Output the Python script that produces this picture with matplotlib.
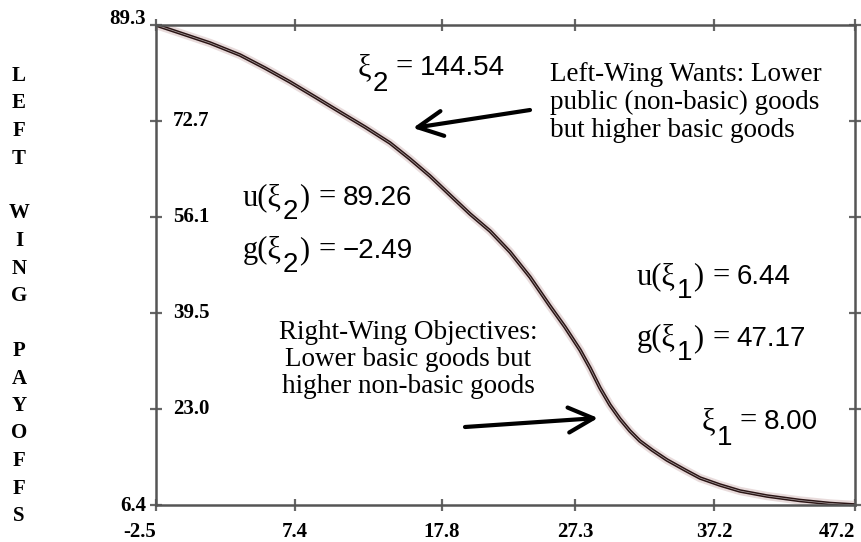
import matplotlib
matplotlib.use("Agg")
import matplotlib.pyplot as plt
import matplotlib.transforms as mtransforms

# ---- payoff curve samples ----
xi = [-2.50, -0.79, 1.34, 3.47, 5.25, 7.03, 8.81, 10.58, 12.36, 14.14, 15.56,
      16.98, 18.40, 19.83, 21.25, 22.67, 24.09, 25.51, 26.58, 27.65, 28.36,
      29.07, 29.78, 30.49, 31.20, 31.91, 32.77, 33.83, 35.11, 36.18, 37.60,
      39.02, 40.94, 43.29, 45.42, 47.20]
payoff = [89.30, 87.92, 86.19, 84.12, 81.87, 79.46, 76.87, 74.27, 71.68, 68.92,
          66.16, 63.22, 59.94, 56.66, 53.72, 50.10, 45.78, 40.77, 37.14, 33.17,
          30.06, 26.61, 23.67, 21.25, 19.18, 17.45, 15.90, 14.18, 12.45, 11.06,
          9.85, 8.82, 7.95, 7.18, 6.66, 6.40]

x_ticks = [-2.5, 7.4, 17.8, 27.3, 37.2, 47.2]
x_labels = ["-2.5", "7.4", "17.8", "27.3", "37.2", "47.2"]
y_ticks = [6.4, 23.0, 39.5, 56.1, 72.7, 89.3]
y_labels = ["6.4", "23.0", "39.5", "56.1", "72.7", "89.3"]

# equilibrium values
xi2, u_xi2, g_xi2 = 144.54, 89.26, -2.49
xi1, u_xi1, g_xi1 = 8.00, 6.44, 47.17

ylabel_text = "LEFT WING PAYOFFS"
left_note = "Left-Wing Wants: Lower\npublic (non-basic) goods\nbut higher basic goods"
right_note = "Right-Wing Objectives:\nLower basic goods but\nhigher non-basic goods"

SERIF = ["Liberation Serif", "DejaVu Serif"]
NARROW = ["Liberation Sans Narrow", "Liberation Sans", "DejaVu Sans"]

W, H = 862, 542
fig = plt.figure(figsize=(W / 100, H / 100), dpi=100)
ax = fig.add_axes([156 / W, (H - 505) / H, 699 / W, 480 / H])

ax.plot(xi, payoff, color="#d9c4c4", lw=6, alpha=0.6, solid_capstyle="round")
ax.plot(xi, payoff, color="#2b1515", lw=2.6)
ax.plot(xi, payoff, color="#b0a8a8", lw=0.5)

ax.set_xlim(-2.5, 47.2)
ax.set_ylim(6.4, 89.3)

for s in ax.spines.values():
    s.set_color("#555555")
    s.set_linewidth(1.8)

ax.set_xticks(x_ticks)
ax.set_xticklabels(x_labels, family=SERIF, fontweight="bold", fontsize=15)
ax.set_yticks(y_ticks)
ax.tick_params(direction="inout", length=9, width=1.6, color="#666666",
               top=True, right=True, labelleft=False, pad=8)
xl = ax.get_xticklabels()
xl[0].set_horizontalalignment("right")
xl[-1].set_horizontalalignment("right")

# y tick labels: ends outside the frame, middle ones inside
for v, lab in zip(y_ticks, y_labels):
    if v in (min(y_ticks), max(y_ticks)):
        dx, ha = -7, "right"
        dy = 4 if v == max(y_ticks) else -1
    else:
        dx, ha, dy = 12, "left", 0
    tr = ax.get_yaxis_transform() + mtransforms.ScaledTranslation(dx / 72, dy / 72, fig.dpi_scale_trans)
    ax.text(0, v, lab, transform=tr, ha=ha, va="center", family=SERIF,
            fontweight="bold", fontsize=15)

# stacked vertical axis title
for i, ch in enumerate(ylabel_text):
    fig.text(19 / W, (H - 76 - i * 27.5) / H, ch, ha="center", va="center",
             family=SERIF, fontweight="bold", fontsize=15)

renderer = fig.canvas.get_renderer()


def equation(x, y, parts):
    # parts: (text, family, size, drop below baseline, gap after)
    for s, fam, size, drop, gap in parts:
        t = fig.text(x / W, (H - y - drop) / H, s, family=fam, fontsize=size,
                     ha="left", va="baseline")
        x += t.get_window_extent(renderer).width + gap


def fmt(v):
    return f"{v:.2f}".replace("-", "\u2212")


def sub_eq(x, y, func, sub, value):
    parts = [(func + "(\u03be", SERIF, 22, 0, 1),
             (sub, NARROW, 20, 14, 1),
             (")", SERIF, 22, 0, 9),
             ("=", SERIF, 22, 0, 7),
             (fmt(value), NARROW, 20, 0, 0)]
    equation(x, y, parts)


def xi_eq(x, y, sub, value):
    parts = [("\u03be", SERIF, 22, 0, 1),
             (sub, NARROW, 20, 16, 8),
             ("=", SERIF, 22, 0, 7),
             (fmt(value), NARROW, 20, 0, 0)]
    equation(x, y, parts)


xi_eq(358, 75, "2", xi2)
sub_eq(243, 205, "u", "2", u_xi2)
sub_eq(243, 258, "g", "2", g_xi2)
sub_eq(637, 284, "u", "1", u_xi1)
sub_eq(637, 346, "g", "1", g_xi1)
xi_eq(702, 429, "1", xi1)

# multi-line notes are anchored on the baseline of their last line
fig.text(550 / W, (H - 137) / H, left_note, ha="left", va="baseline",
         family=SERIF, fontsize=19.5, linespacing=1.15)
fig.text(408 / W, (H - 393) / H, right_note, ha="center", va="baseline",
         multialignment="center", family=SERIF, fontsize=19.5, linespacing=1.1)

arrow = dict(arrowstyle="->,head_length=0.9,head_width=0.45", lw=3,
             color="black", shrinkA=0, shrinkB=0, mutation_scale=20)
ax.annotate("", xy=(413, H - 128), xytext=(530, H - 110),
            xycoords="figure pixels", textcoords="figure pixels", arrowprops=arrow)
ax.annotate("", xy=(598, H - 418), xytext=(465, H - 427),
            xycoords="figure pixels", textcoords="figure pixels", arrowprops=arrow)

fig.savefig("out.png", dpi=100, facecolor="white")
